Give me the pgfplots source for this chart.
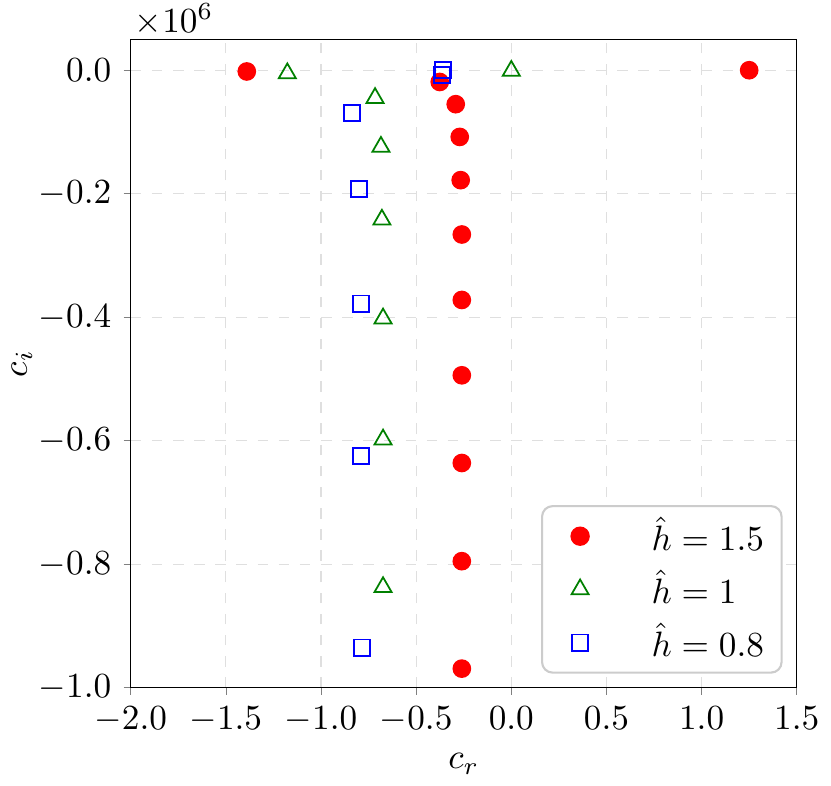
\documentclass[border=0pt]{standalone}
\usepackage{pgfplots}
\pgfplotsset{compat=1.18}
\definecolor{lgdraw}{gray}{0.8}
\begin{document}
\begin{tikzpicture}
\begin{axis}[
  scale only axis,
  width=189pt, height=184pt,
  xmin=-2, xmax=1.5, ymin=-1.0, ymax=0.05,
  xtick={-2,-1.5,...,1.5},
  ytick={-1,-0.8,-0.6,-0.4,-0.2,0},
  xticklabel style={/pgf/number format/.cd,fixed,fixed zerofill,precision=1},
  yticklabel style={/pgf/number format/.cd,fixed,fixed zerofill,precision=1},
  tick align=outside, tick pos=left,
  major tick length=2pt,
  grid=major,
  grid style={dashed, gray!25, line width=0.3pt},
  xlabel={$c_r$}, ylabel={$c_i$},
  xlabel style={yshift=1pt},
  ylabel style={yshift=-5pt},
  legend cell align=left,
  legend style={at={([xshift=-4pt,yshift=4pt]rel axis cs:1,0)}, anchor=south east,
    rounded corners=3pt, draw=lgdraw, line width=0.6pt, fill=white,
    inner xsep=3pt, inner ysep=1pt, row sep=0pt, font=\normalsize},
  legend image code/.code={\path (0pt,0pt) (25.5pt,0pt); \draw[#1] plot coordinates {(7.5pt,0pt)};},
  clip=false,
]
\addplot[only marks, mark=*, mark size=2.45pt, color=red, mark options={fill=red, draw=red}] coordinates {
(-1.39,-0.002) (1.25,0) (-0.376,-0.019) (-0.292,-0.055) (-0.271,-0.108) (-0.266,-0.178)
(-0.26,-0.266) (-0.26,-0.372) (-0.26,-0.494) (-0.26,-0.636) (-0.26,-0.795) (-0.26,-0.969)
};
\addlegendentry{$\hat{h}=1.5$}
\addplot[only marks, mark=triangle, mark size=2.8pt, color=green!50!black, mark options={line width=0.5pt}] coordinates {
(-1.177,-0.005) (0.0,-0.001) (-0.716,-0.045) (-0.685,-0.124) (-0.68,-0.242) (-0.674,-0.402) (-0.674,-0.598) (-0.674,-0.837)
};
\addlegendentry{$\hat{h}=1$}
\addplot[only marks, mark=square, mark size=2.3pt, color=blue, mark options={line width=0.5pt}] coordinates {
(-0.36,0.0) (-0.364,-0.008) (-0.837,-0.069) (-0.80,-0.192) (-0.79,-0.378) (-0.79,-0.625) (-0.785,-0.935)
};
\addlegendentry{$\hat{h}=0.8$}
\node[anchor=south west, inner sep=1pt] at (rel axis cs:0,1) {$\times10^{6}$};
\end{axis}
\end{tikzpicture}
\end{document}
